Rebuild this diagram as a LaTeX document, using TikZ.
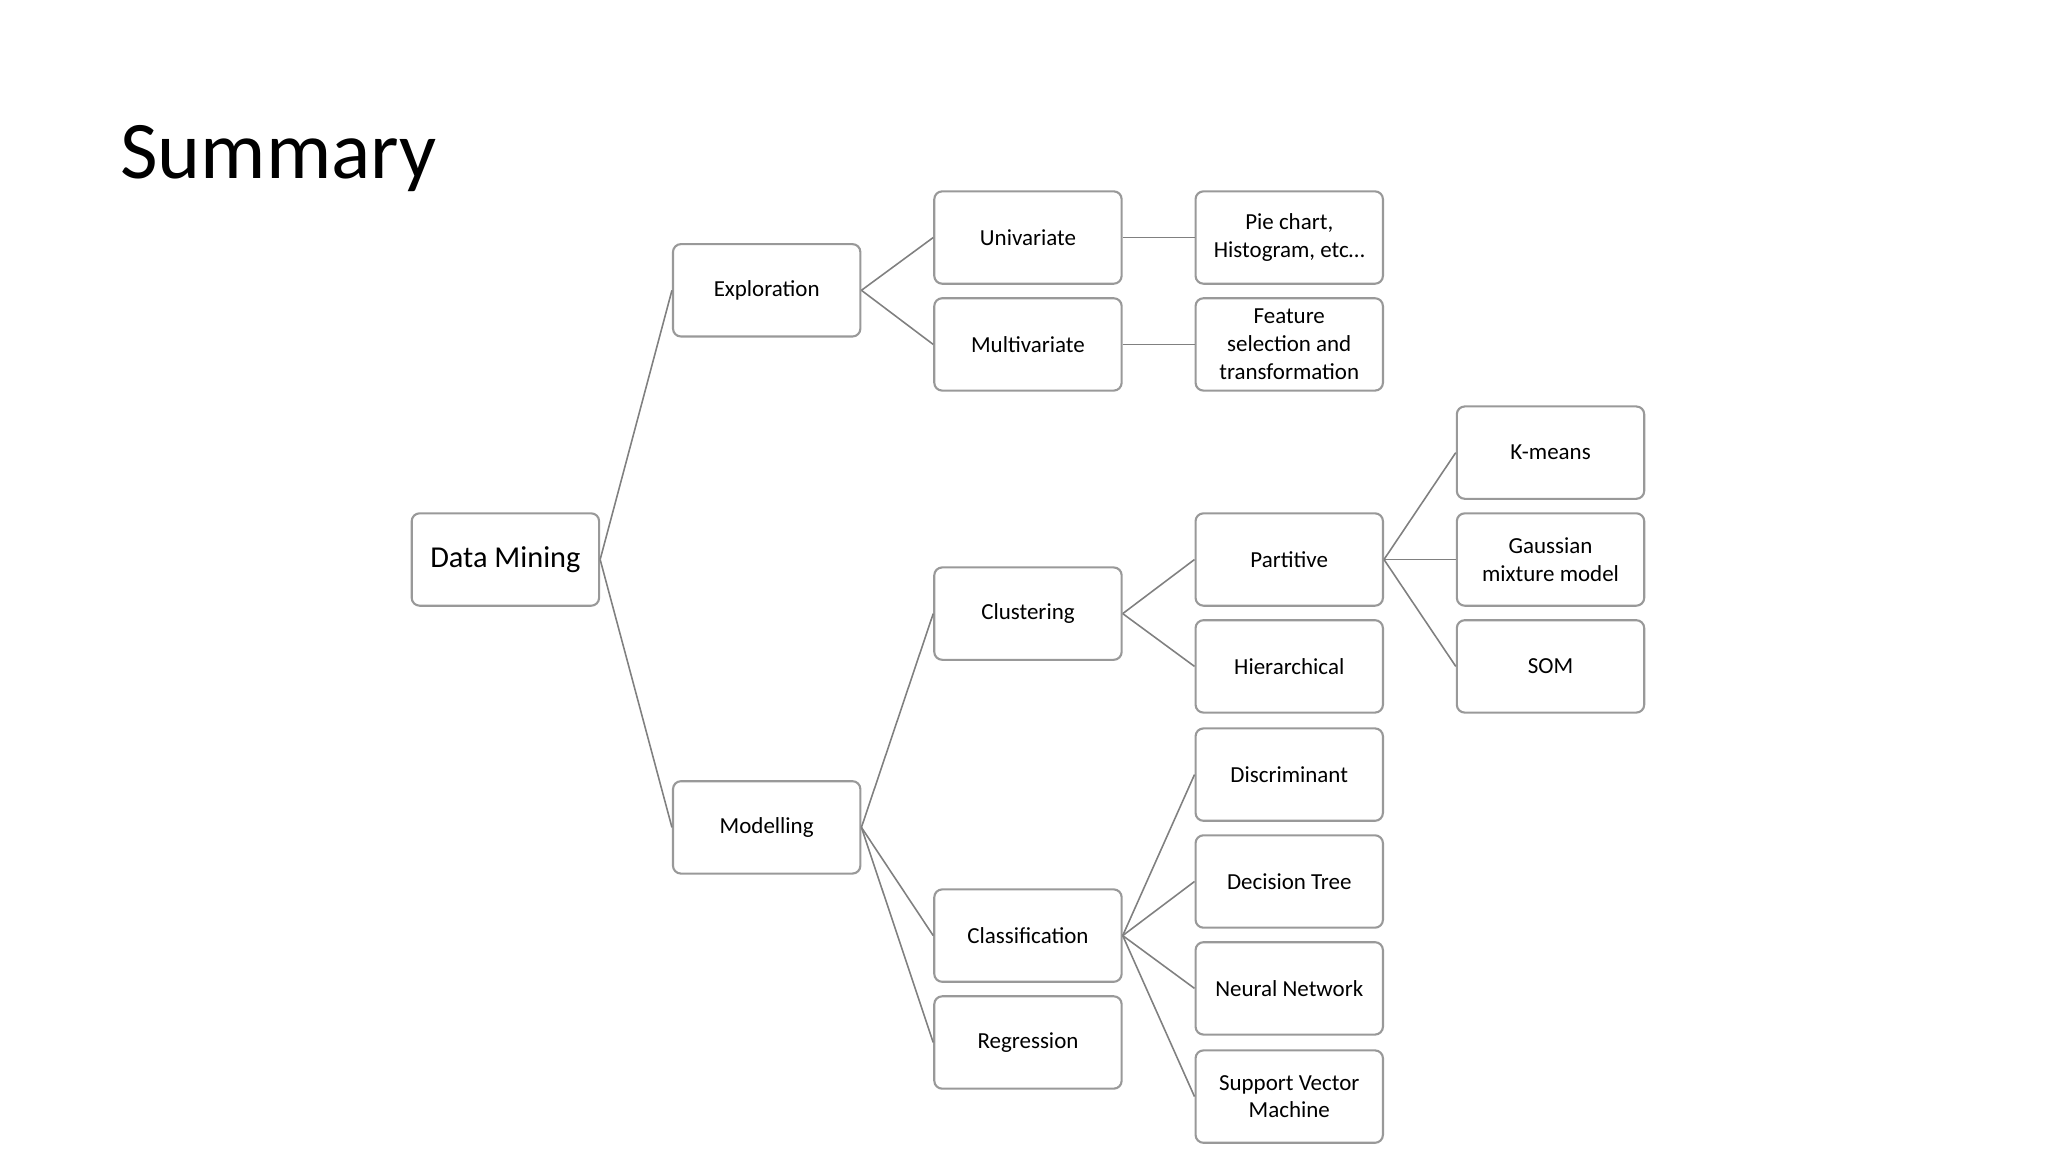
\documentclass[tikz,border=0pt]{standalone}
\usepackage{fontspec}
\setmainfont{Carlito}
\begin{document}
\begin{tikzpicture}[x=0.5pt,y=-0.5pt,
  box/.style={draw=black!40,line width=0.8pt,rounded corners=3pt,minimum width=71pt,minimum height=35pt,align=center,font=\fontsize{8.7}{10.5}\selectfont,inner sep=1pt},
  link/.style={draw=black!50,line width=0.6pt}]
\useasboundingbox (0,0) rectangle (1552,873);
\node[anchor=west,font=\fontsize{31}{36}\selectfont] (title) at (84,120) {Summary};
\node[box,font=\fontsize{11.5}{13}\selectfont] (dm) at (383,424) {Data Mining};
\node[box] (exp) at (581,220) {Exploration};
\node[box] (mod) at (581,627) {Modelling};
\node[box] (uni) at (779,180) {Univariate};
\node[box] (mul) at (779,261) {Multivariate};
\node[box] (clu) at (779,465) {Clustering};
\node[box] (cla) at (779,709) {Classification};
\node[box] (reg) at (779,790) {Regression};
\node[box] (pie) at (977,180) {Pie chart,\\Histogram, etc…};
\node[box] (fea) at (977,261) {Feature\\selection and\\transformation};
\node[box] (par) at (977,424) {Partitive};
\node[box] (hie) at (977,505) {Hierarchical};
\node[box] (dis) at (977,587) {Discriminant};
\node[box] (dec) at (977,668) {Decision Tree};
\node[box] (neu) at (977,749) {Neural Network};
\node[box] (svm) at (977,831) {Support Vector\\Machine};
\node[box] (km) at (1175,343) {K-means};
\node[box] (gau) at (1175,424) {Gaussian\\mixture model};
\node[box] (som) at (1175,505) {SOM};
\foreach \a/\b in {dm/exp,dm/mod,exp/uni,exp/mul,uni/pie,mul/fea,mod/clu,mod/cla,mod/reg,clu/par,clu/hie,par/km,par/gau,par/som,cla/dis,cla/dec,cla/neu,cla/svm}
  \draw[link] (\a.east) -- (\b.west);
\end{tikzpicture}
\end{document}
